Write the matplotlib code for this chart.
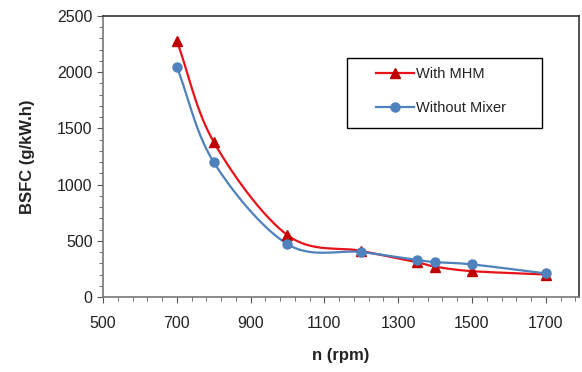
import numpy as np
import matplotlib.pyplot as plt
from matplotlib.ticker import MultipleLocator, FixedLocator
from matplotlib.patches import Rectangle

plt.rcParams['font.family'] = ['Liberation Sans', 'DejaVu Sans']

# data
rpm = [700, 800, 1000, 1200, 1350, 1400, 1500, 1700]
bsfc_mhm = [2280, 1380, 550, 410, 310, 270, 230, 200]
bsfc_no_mixer = [2050, 1200, 470, 400, 330, 310, 290, 210]
xticks = [500, 700, 900, 1100, 1300, 1500, 1700]


def smooth(x, y, n=30):
    # catmull-rom style smoothing like the excel "smoothed line"
    x = np.asarray(x, float)
    y = np.asarray(y, float)
    px = np.concatenate([[2 * x[0] - x[1]], x, [2 * x[-1] - x[-2]]])
    py = np.concatenate([[2 * y[0] - y[1]], y, [2 * y[-1] - y[-2]]])
    xs, ys = [], []
    t = np.linspace(0, 1, n)
    for i in range(1, len(px) - 2):
        for arr, out in ((px, xs), (py, ys)):
            p0, p1, p2, p3 = arr[i - 1], arr[i], arr[i + 1], arr[i + 2]
            c = 0.5 * (2 * p1 + (-p0 + p2) * t + (2 * p0 - 5 * p1 + 4 * p2 - p3) * t ** 2
                       + (-p0 + 3 * p1 - 3 * p2 + p3) * t ** 3)
            out.extend(c)
    return np.array(xs), np.array(ys)


W, H = 582, 372
fig = plt.figure(figsize=(W / 100, H / 100), dpi=100)
ax = fig.add_axes([103 / W, 1 - 297 / H, (579 - 103) / W, (297 - 16) / H])

red_line, red_mk = '#E8121A', '#C00000'
blue_line, blue_mk = '#4F81BD', '#4F81BD'

sx, sy = smooth(rpm, bsfc_mhm)
ax.plot(sx, sy, color=red_line, lw=1.6, zorder=3)
ax.plot(rpm, bsfc_mhm, ls='none', marker='^', ms=6.5, color=red_mk, zorder=4)
sx, sy = smooth(rpm, bsfc_no_mixer)
ax.plot(sx, sy, color=blue_line, lw=1.6, zorder=3)
ax.plot(rpm, bsfc_no_mixer, ls='none', marker='o', ms=6.5, color=blue_mk, zorder=4)

# legend box drawn by hand, legend itself without frame
fig.patches.append(Rectangle((347 / W, 1 - 128 / H), 195 / W, 70 / H, transform=fig.transFigure,
                             fill=False, edgecolor='black', lw=1.0, zorder=5))
ax.plot([], [], color=red_line, lw=1.6, marker='^', ms=6.5, mfc=red_mk, mec=red_mk, label='With MHM')
ax.plot([], [], color=blue_line, lw=1.6, marker='o', ms=6.5, label='Without Mixer')
leg = ax.legend(loc='upper left', bbox_to_anchor=(376 / W, 1 - 67 / H), bbox_transform=fig.transFigure,
                frameon=False, fontsize=10.5, handlelength=2.6, handletextpad=0.15,
                labelspacing=1.4, borderpad=0, borderaxespad=0)
for t in leg.get_texts():
    t.set_color('#222222')

ax.set_xlim(500, 1790)
ax.set_ylim(0, 2500)
ax.xaxis.set_major_locator(FixedLocator(xticks))
ax.xaxis.set_minor_locator(FixedLocator(np.arange(500, 1790, 40)))
ax.yaxis.set_major_locator(MultipleLocator(500))
ax.yaxis.set_minor_locator(MultipleLocator(100))
ax.tick_params(which='both', direction='out', colors='#555555', labelcolor='#222222')
ax.tick_params(which='major', length=4, labelsize=11.5)
ax.tick_params(which='minor', length=3)
ax.tick_params(axis='x', pad=10)

for side in ('top', 'right'):
    ax.spines[side].set_color('#333333')
for side in ('left', 'bottom'):
    ax.spines[side].set_color('#777777')
for s in ax.spines.values():
    s.set_linewidth(1.2)

ax.set_xlabel('n (rpm)', fontsize=12, fontweight='bold', labelpad=12, color='#222222')
ax.set_ylabel('BSFC (g/kW.h)', fontsize=12, fontweight='bold', labelpad=16, color='#222222')

fig.savefig('out.png', dpi=100)
